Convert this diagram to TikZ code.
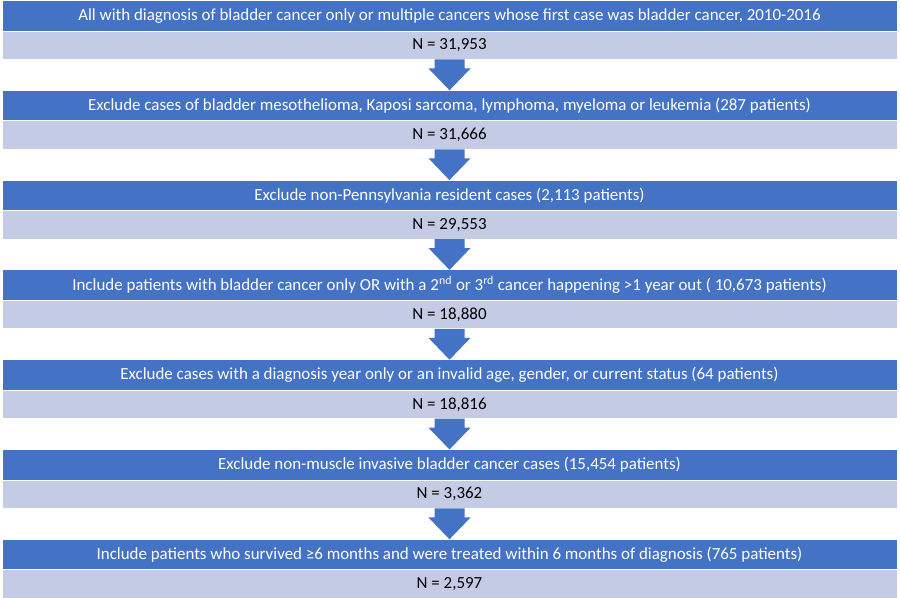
\documentclass[tikz,border=0pt]{standalone}
\usepackage{fontspec}
\setmainfont{Carlito}
\usepackage{xcolor}
\usetikzlibrary{positioning, calc}
\definecolor{hdrblue}{HTML}{4472C4}
\definecolor{rowblue}{HTML}{C4CBE5}
% block arrow from a count row down to the next header
\newcommand{\flowarrow}[2]{%
  \fill[hdrblue] ($(#1.south)+(-15,0)$) -- ($(#1.south)+(15,0)$)
    -- ($(#1.south)+(15,-9)$) -- ($(#1.south)+(21,-9)$) -- (#2.north)
    -- ($(#1.south)+(-21,-9)$) -- ($(#1.south)+(-15,-9)$) -- cycle;}

\begin{document}
\begin{tikzpicture}[
  x=0.75pt, y=0.75pt,
  header/.style={fill=hdrblue, draw=white, line width=0.6pt, text=white,
    minimum width=671.25pt, minimum height=22.85pt, inner sep=0pt,
    outer sep=0pt, font=\fontsize{12.7}{15}\selectfont},
  count/.style={fill=rowblue, draw=white, line width=0.6pt, text=black,
    minimum width=671.25pt, minimum height=21.4pt, inner sep=0pt,
    outer sep=0pt, font=\fontsize{12.7}{15}\selectfont},
  node distance=0pt
]
\useasboundingbox (0,0) rectangle (900,-598);

\node[header, anchor=north] (H1) at (449.5,-0.5)
  {All with diagnosis of bladder cancer only or multiple cancers whose first case was bladder cancer, 2010-2016};
\node[count, below=of H1] (N1) {N = 31,953};

\node[header, below=23.1pt of N1] (H2)
  {Exclude cases of bladder mesothelioma, Kaposi sarcoma, lymphoma, myeloma or leukemia (287 patients)};
\node[count, below=of H2] (N2) {N = 31,666};

\node[header, below=23.1pt of N2] (H3)
  {Exclude non-Pennsylvania resident cases (2,113 patients)};
\node[count, below=of H3] (N3) {N = 29,553};

\node[header, below=23.1pt of N3] (H4)
  {Include patients with bladder cancer only OR with a 2\textsuperscript{nd} or 3\textsuperscript{rd} cancer happening >1 year out ( 10,673 patients)};
\node[count, below=of H4] (N4) {N = 18,880};

\node[header, below=23.1pt of N4] (H5)
  {Exclude cases with a diagnosis year only or an invalid age, gender, or current status (64 patients)};
\node[count, below=of H5] (N5) {N = 18,816};

\node[header, below=23.1pt of N5] (H6)
  {Exclude non-muscle invasive bladder cancer cases (15,454 patients)};
\node[count, below=of H6] (N6) {N = 3,362};

\node[header, below=23.1pt of N6] (H7)
  {Include patients who survived ≥6 months and were treated within 6 months of diagnosis (765 patients)};
\node[count, below=of H7] (N7) {N = 2,597};

\flowarrow{N1}{H2}
\flowarrow{N2}{H3}
\flowarrow{N3}{H4}
\flowarrow{N4}{H5}
\flowarrow{N5}{H6}
\flowarrow{N6}{H7}
\end{tikzpicture}
\end{document}
